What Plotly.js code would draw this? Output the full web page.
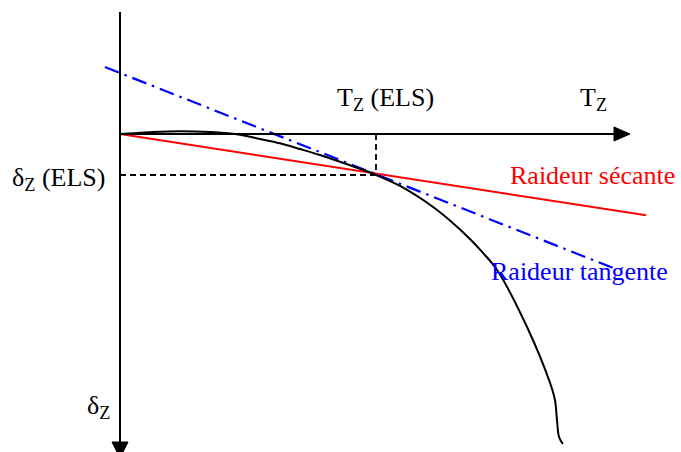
<!DOCTYPE html>
<html>
<head>
<meta charset="utf-8">
<script src="https://cdn.plot.ly/plotly-3.0.1.min.js"></script>
<style>html,body{margin:0;padding:0;background:#fff;}#chart{width:681px;height:452px;}</style>
</head>
<body>
<div id="chart"></div>
<script>
// Schematic load-displacement curve (T_Z horizontal, delta_Z downward), normalised so that T_ELS = 1, delta_ELS = 1
const curveT = [0, 0.117, 0.234, 0.352, 0.449, 0.547, 0.625, 0.703, 0.781, 0.859, 0.938, 1.0, 1.094, 1.223, 1.289, 1.367, 1.418, 1.473, 1.590, 1.680, 1.699, 1.707, 1.715, 1.730];
const curveD = [0, -0.044, -0.068, -0.049, 0, 0.122, 0.227, 0.366, 0.512, 0.676, 0.849, 1.0, 1.268, 1.780, 2.110, 2.560, 2.900, 3.317, 4.707, 6.073, 6.488, 6.976, 7.390, 7.561];
const elsT = 1.0;
const elsD = 1.0;
const secantT = [0, 2.055];
const secantD = [0, 1.983];
const tangentT = [-0.059, 1.926];
const tangentD = [-1.634, 3.268];
const labels = {
  tEls: 'T<sub>Z</sub> (ELS)',
  tAxis: 'T<sub>Z</sub>',
  dEls: 'δ<sub>Z</sub> (ELS)',
  dAxis: 'δ<sub>Z</sub>',
  secant: 'Raideur sécante',
  tangent: 'Raideur tangente'
};

// layout geometry (pixel helpers)
const W = 681, H = 452, X0 = 120, Y0 = 134, SX = 256, SY = 41;
const dx = px => (px - X0) / SX;
const dy = py => (py - Y0) / SY;

const traces = [
  {x: [0, elsT], y: [elsD, elsD], mode: 'lines', line: {color: '#000', width: 1.8, dash: '6px,4px'}, hoverinfo: 'skip'},
  {x: [elsT, elsT], y: [0, elsD], mode: 'lines', line: {color: '#000', width: 1.8, dash: '6px,4px'}, hoverinfo: 'skip'},
  {x: secantT, y: secantD, mode: 'lines', line: {color: '#ff0000', width: 2}, hoverinfo: 'skip'},
  {x: tangentT, y: tangentD, mode: 'lines', line: {color: '#0000ff', width: 2.2, dash: '15px,6px,2.5px,6px'}, hoverinfo: 'skip'},
  {x: curveT, y: curveD, mode: 'lines', line: {color: '#000', width: 2, shape: 'spline', smoothing: 1}, hoverinfo: 'skip'}
];

const FAMILY = '"Times New Roman", "Liberation Serif", "DejaVu Serif", serif';
const font = {family: FAMILY, size: 26, color: '#000'};
function ann(text, px, py, color) {
  return {text: text, x: dx(px), y: dy(py), xref: 'x', yref: 'y', xanchor: 'left', yanchor: 'middle',
          showarrow: false, font: Object.assign({}, font, {color: color || '#000'})};
}

const shapes = [
  {type: 'line', xref: 'x', yref: 'y', x0: 0, y0: dy(12), x1: 0, y1: dy(445), line: {color: '#000', width: 2}},
  {type: 'line', xref: 'x', yref: 'y', x0: 0, y0: 0, x1: dx(616), y1: 0, line: {color: '#000', width: 2}},
  {type: 'path', xref: 'x', yref: 'y', path: `M ${dx(614)} ${dy(127)} L ${dx(630)} ${dy(134)} L ${dx(614)} ${dy(141)} Z`, fillcolor: '#000', line: {color: '#000', width: 1}},
  {type: 'path', xref: 'x', yref: 'y', path: `M ${dx(112)} ${dy(442)} L ${dx(120)} ${dy(458)} L ${dx(128)} ${dy(442)} Z`, fillcolor: '#000', line: {color: '#000', width: 1}}
];

const layout = {
  width: W, height: H,
  margin: {l: 0, r: 0, t: 0, b: 0},
  paper_bgcolor: '#fff', plot_bgcolor: '#fff',
  showlegend: false,
  font: {family: FAMILY},
  xaxis: {range: [dx(0), dx(W)], visible: false, fixedrange: true},
  yaxis: {range: [dy(H), dy(0)], visible: false, fixedrange: true},
  shapes: shapes,
  annotations: [
    ann(labels.tEls, 335, 99),
    ann(labels.tAxis, 578, 99),
    ann(labels.dEls, 10, 179),
    ann(labels.dAxis, 85, 407),
    ann(labels.secant, 508, 175, '#ff0000'),
    ann(labels.tangent, 489, 271, '#0000ff')
  ]
};

Plotly.newPlot('chart', traces, layout, {staticPlot: true, displayModeBar: false});
</script>
</body>
</html>
